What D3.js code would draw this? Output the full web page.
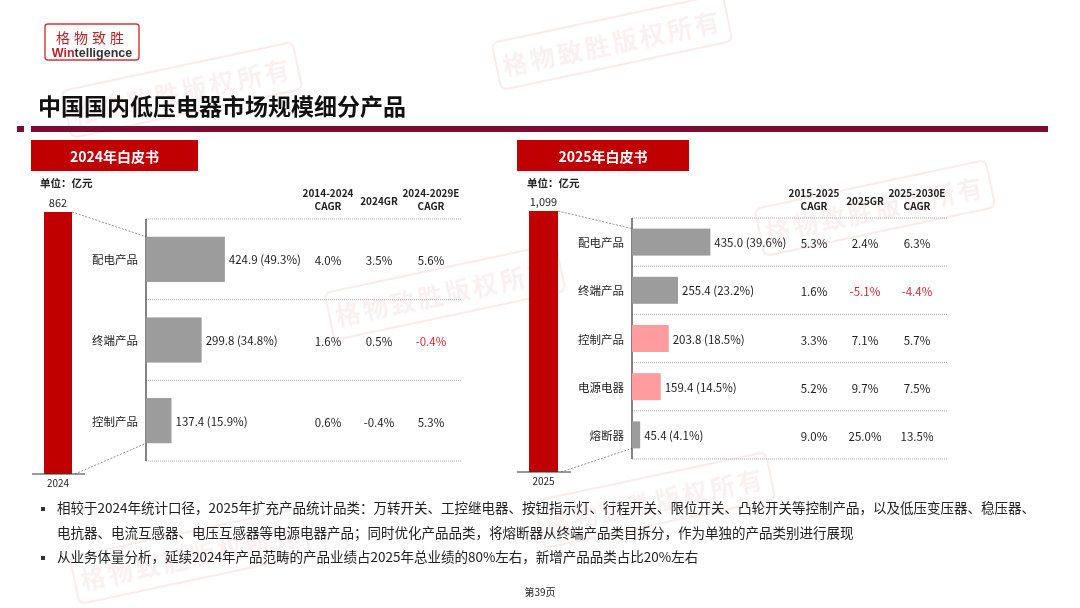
<!DOCTYPE html>
<html>
<head>
<meta charset="utf-8">
<script src="https://cdn.jsdelivr.net/npm/d3@7"></script>
<style>
  body { margin: 0; background: #fff; }
  svg { display: block; font-family: "Noto Sans CJK SC", "Noto Sans", sans-serif; }
</style>
</head>
<body>
<div id="chart"></div>
<script>
// ---- data ----
const title = "中国国内低压电器市场规模细分产品";

const categories2024 = ["配电产品", "终端产品", "控制产品"];
const values2024 = [424.9, 299.8, 137.4];
const shares2024 = ["49.3%", "34.8%", "15.9%"];
const total2024 = 862;
const columns2024 = [["2014-2024", "CAGR"], ["2024GR"], ["2024-2029E", "CAGR"]];
const cagrPast2024 = ["4.0%", "1.6%", "0.6%"];
const growth2024 = ["3.5%", "0.5%", "-0.4%"];
const cagrFuture2024 = ["5.6%", "-0.4%", "5.3%"];
const redCells2024 = [[1, 2]]; // [row, column]

const categories2025 = ["配电产品", "终端产品", "控制产品", "电源电器", "熔断器"];
const values2025 = [435.0, 255.4, 203.8, 159.4, 45.4];
const shares2025 = ["39.6%", "23.2%", "18.5%", "14.5%", "4.1%"];
const total2025 = 1099;
const newCategories2025 = ["控制产品", "电源电器"];
const columns2025 = [["2015-2025", "CAGR"], ["2025GR"], ["2025-2030E", "CAGR"]];
const cagrPast2025 = ["5.3%", "1.6%", "3.3%", "5.2%", "9.0%"];
const growth2025 = ["2.4%", "-5.1%", "7.1%", "9.7%", "25.0%"];
const cagrFuture2025 = ["6.3%", "-4.4%", "5.7%", "7.5%", "13.5%"];
const redCells2025 = [[1, 1], [1, 2]];

const notes = [
  ["相较于2024年统计口径，2025年扩充产品统计品类：万转开关、工控继电器、按钮指示灯、行程开关、限位开关、凸轮开关等控制产品，以及低压变压器、稳压器、",
   "电抗器、电流互感器、电压互感器等电源电器产品；同时优化产品品类，将熔断器从终端产品类目拆分，作为单独的产品类别进行展现"],
  ["从业务体量分析，延续2024年产品范畴的产品业绩占2025年总业绩的80%左右，新增产品品类占比20%左右"]
];
const pageLabel = "第39页";

// ---- drawing ----
const width = 1080, height = 608;
const RED = "#c00000", GREY = "#9c9c9c", PINK = "#ff9ca0", NEG = "#d42a3a";

const svg = d3.select("#chart").append("svg")
  .attr("width", width).attr("height", height);

// faint watermark stamps
const stamps = [[612, 42], [182, 90], [445, 292], [875, 208], [655, 500], [190, 556]];
const wm = svg.append("g").attr("opacity", 0.3);
stamps.forEach(([cx, cy]) => {
  const g = wm.append("g").attr("transform", `translate(${cx},${cy}) rotate(-12)`);
  g.append("rect").attr("x", -118).attr("y", -24).attr("width", 236).attr("height", 48)
    .attr("rx", 6).attr("fill", "none").attr("stroke", "#e6c0c4").attr("stroke-width", 2);
  g.append("text").attr("text-anchor", "middle").attr("dominant-baseline", "central")
    .attr("font-size", 25).attr("font-weight", 700).attr("letter-spacing", 3)
    .attr("fill", "#eccdd0").text("格物致胜版权所有");
});

// logo
const logo = svg.append("g");
logo.append("rect").attr("x", 45).attr("y", 24).attr("width", 94).attr("height", 36)
  .attr("rx", 3).attr("fill", "none").attr("stroke", "#c8383c").attr("stroke-width", 1.4);
logo.append("text").attr("x", 92).attr("y", 43).attr("text-anchor", "middle")
  .attr("font-size", 14).attr("letter-spacing", 4).attr("fill", "#b8252b").text("格物致胜");
const wt = logo.append("text").attr("x", 92).attr("y", 57).attr("text-anchor", "middle")
  .attr("font-size", 12.5).attr("font-weight", 700).attr("font-family", "Arial, 'Liberation Sans', sans-serif");
wt.append("tspan").attr("fill", "#b8252b").text("Win");
wt.append("tspan").attr("fill", "#333").text("telligence");

// title + rule
svg.append("text").attr("x", 38).attr("y", 115).attr("font-size", 23).attr("font-weight", 700)
  .attr("fill", "#111").text(title);
svg.append("rect").attr("x", 17).attr("y", 126).attr("width", 7).attr("height", 6).attr("fill", "#7b0c32");
svg.append("rect").attr("x", 31).attr("y", 126).attr("width", 1017).attr("height", 6).attr("fill", "#7b0c32");

function drawPanel(p) {
  const g = svg.append("g");
  const n = p.categories.length;

  // header box
  g.append("rect").attr("x", p.boxX).attr("y", 140).attr("width", p.boxW).attr("height", 31).attr("fill", RED);
  g.append("text").attr("x", p.boxX + p.boxW / 2).attr("y", 156).attr("text-anchor", "middle")
    .attr("dominant-baseline", "central").attr("font-size", 14).attr("font-weight", 700)
    .attr("fill", "#fff").text(p.header);
  g.append("text").attr("x", p.unitX).attr("y", 187).attr("font-size", 10.5).attr("font-weight", 700)
    .attr("fill", "#222").text("单位：亿元");

  // total bar
  const yTotal = d3.scaleLinear().domain([0, p.total]).range([p.barBottom, p.barTop]);
  g.append("rect").attr("x", p.bigX).attr("y", yTotal(p.total)).attr("width", p.bigW)
    .attr("height", yTotal(0) - yTotal(p.total)).attr("fill", RED);
  g.append("line").attr("x1", p.bigX - 12).attr("x2", p.bigX + p.bigW + 13)
    .attr("y1", yTotal(0)).attr("y2", yTotal(0)).attr("stroke", "#333").attr("stroke-width", 1);
  g.append("text").attr("x", p.bigX + p.bigW / 2).attr("y", yTotal(p.total) - 5).attr("text-anchor", "middle")
    .attr("font-size", 11).attr("fill", "#222").text(d3.format(",")(p.total));
  g.append("text").attr("x", p.bigX + p.bigW / 2).attr("y", yTotal(0) + 13).attr("text-anchor", "middle")
    .attr("font-size", 10).attr("fill", "#222").text(p.year);

  // breakdown
  const y = d3.scaleBand().domain(p.categories).range([p.rowTop, p.rowBottom])
    .paddingInner(0.44).paddingOuter(0.22);
  const x = d3.scaleLinear().domain([0, p.total]).range([p.axisX, p.axisX + p.scaleW]);
  const step = y.step();

  // connectors
  g.append("line").attr("x1", p.bigX + p.bigW).attr("y1", yTotal(p.total))
    .attr("x2", p.axisX).attr("y2", y(p.categories[0]))
    .attr("stroke", "#666").attr("stroke-width", 0.7).attr("stroke-dasharray", "2,1.5");
  g.append("line").attr("x1", p.bigX + p.bigW + 3).attr("y1", yTotal(0))
    .attr("x2", p.axisX).attr("y2", y(p.categories[n - 1]) + y.bandwidth())
    .attr("stroke", "#666").attr("stroke-width", 0.7).attr("stroke-dasharray", "2,1.5");

  // row separators
  g.selectAll(".sep").data(d3.range(n + 1)).join("line")
    .attr("x1", p.axisX).attr("x2", p.lineEnd)
    .attr("y1", i => p.rowTop + i * step).attr("y2", i => p.rowTop + i * step)
    .attr("stroke", "#a8a8a8").attr("stroke-width", 1).attr("stroke-dasharray", "1,1");

  g.append("line").attr("x1", p.axisX).attr("x2", p.axisX).attr("y1", p.rowTop).attr("y2", p.rowBottom)
    .attr("stroke", "#333").attr("stroke-width", 1.2);

  g.selectAll(".bar").data(p.categories).join("rect")
    .attr("x", x(0)).attr("y", d => y(d))
    .attr("width", (d, i) => x(p.values[i]) - x(0)).attr("height", y.bandwidth())
    .attr("fill", d => p.newCats.includes(d) ? PINK : GREY);

  g.selectAll(".cat").data(p.categories).join("text")
    .attr("x", p.axisX - 8).attr("y", d => y(d) + y.bandwidth() / 2)
    .attr("text-anchor", "end").attr("dominant-baseline", "central")
    .attr("font-size", 11.5).attr("fill", "#222").text(d => d);

  g.selectAll(".val").data(p.categories).join("text")
    .attr("x", (d, i) => x(p.values[i]) + 4).attr("y", d => y(d) + y.bandwidth() / 2)
    .attr("dominant-baseline", "central").attr("font-size", 11.5).attr("fill", "#222")
    .text((d, i) => `${p.values[i].toFixed(1)} (${p.shares[i]})`);

  // table columns
  const cols = [p.cagrPast, p.growth, p.cagrFuture];
  p.columns.forEach((lines, c) => {
    const cx = p.colX[c];
    if (lines.length === 1) {
      g.append("text").attr("x", cx).attr("y", 205).attr("text-anchor", "middle")
        .attr("font-size", 10).attr("font-weight", 700).attr("fill", "#222").text(lines[0]);
    } else {
      lines.forEach((l, k) => g.append("text").attr("x", cx).attr("y", 197 + k * 13)
        .attr("text-anchor", "middle").attr("font-size", 10).attr("font-weight", 700)
        .attr("fill", "#222").text(l));
    }
    g.selectAll(null).data(p.categories).join("text")
      .attr("x", cx).attr("y", (d, i) => y(d) + y.bandwidth() / 2 + 1)
      .attr("text-anchor", "middle").attr("dominant-baseline", "central").attr("font-size", 11.5)
      .attr("fill", (d, i) => p.red.some(([r, k]) => r === i && k === c) ? NEG : "#222")
      .text((d, i) => cols[c][i]);
  });
}

drawPanel({
  header: "2024年白皮书", year: "2024", categories: categories2024, values: values2024,
  shares: shares2024, total: total2024, newCats: [], columns: columns2024,
  cagrPast: cagrPast2024, growth: growth2024, cagrFuture: cagrFuture2024, red: redCells2024,
  boxX: 31, boxW: 167, unitX: 40, bigX: 44, bigW: 28, barTop: 212, barBottom: 474,
  axisX: 146, rowTop: 219, rowBottom: 461, lineEnd: 462, scaleW: 160, colX: [328, 379, 431]
});

drawPanel({
  header: "2025年白皮书", year: "2025", categories: categories2025, values: values2025,
  shares: shares2025, total: total2025, newCats: newCategories2025, columns: columns2025,
  cagrPast: cagrPast2025, growth: growth2025, cagrFuture: cagrFuture2025, red: redCells2025,
  boxX: 517, boxW: 172, unitX: 527, bigX: 529, bigW: 29, barTop: 211, barBottom: 472,
  axisX: 632, rowTop: 218, rowBottom: 459, lineEnd: 947, scaleW: 198, colX: [814, 865, 917]
});

// notes
let ny = 513;
notes.forEach(lines => {
  svg.append("rect").attr("x", 41).attr("y", ny - 6).attr("width", 4).attr("height", 4).attr("fill", "#333");
  lines.forEach(l => {
    svg.append("text").attr("x", 57).attr("y", ny).attr("font-size", 13.5).attr("fill", "#222").text(l);
    ny += 24.5;
  });
});

svg.append("text").attr("x", 540).attr("y", 596).attr("text-anchor", "middle")
  .attr("font-size", 10).attr("fill", "#222").text(pageLabel);
</script>
</body>
</html>
